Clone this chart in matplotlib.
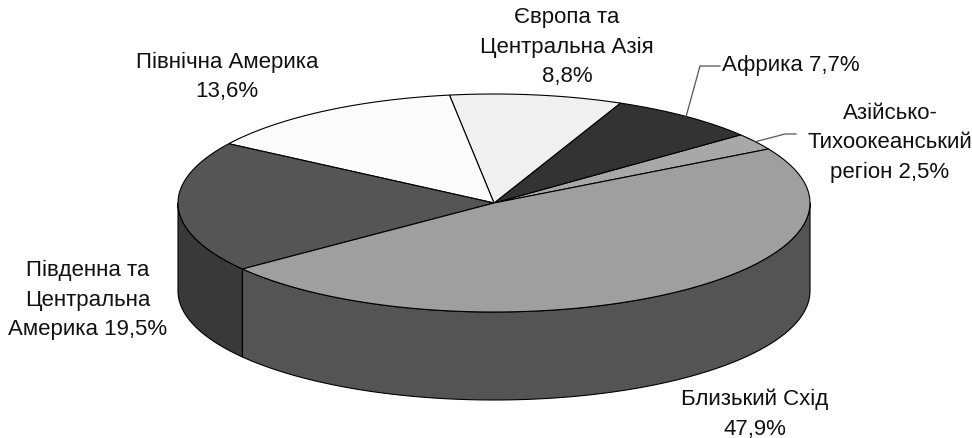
import matplotlib.pyplot as plt
import numpy as np

plt.rcParams['font.family'] = ['Liberation Sans', 'DejaVu Sans']

# regions, counterclockwise from the start angle
regions = ["Азійсько-\nТихоокеанський\nрегіон", "Африка", "Європа та\nЦентральна Азія",
           "Північна Америка", "Південна та\nЦентральна\nАмерика", "Близький Схід"]
shares = [2.5, 7.7, 8.8, 13.6, 19.5, 47.9]
value_sep = [" ", " ", "\n", "\n", " ", "\n"]
top_colors = ["#a8a8a8", "#333333", "#f0f0f0", "#fbfbfb", "#555555", "#9f9f9f"]
side_colors = ["#6a6a6a", "#222222", "#b0b0b0", "#c0c0c0", "#393939", "#545454"]

# label placement (x, y, ha) in pixels
label_pos = [(890, 143, "center"), (722, 66, "left"), (567, 47, "center"),
             (227, 77, "center"), (88, 300, "center"), (755, 414, "center")]
leader_elbow = {0: [(785, 134), (796, 134)], 1: [(700, 66), (720, 66)]}

W, H = 972, 438
cx, cy, a, b, depth = 494, 203, 316, 109, 88
start = 29.7


def arc(t1, t2, dy=0, n=120):
    t = np.radians(np.linspace(t1, t2, n))
    return np.column_stack([cx + a * np.cos(t), cy - b * np.sin(t) + dy])


fig = plt.figure(figsize=(W / 100, H / 100), dpi=100)
ax = fig.add_axes([0, 0, 1, 1])
ax.set_xlim(0, W)
ax.set_ylim(H, 0)
ax.axis("off")

bounds = start + np.concatenate([[0], np.cumsum(shares)]) * 3.6

# front side walls
for i in range(len(shares)):
    t1, t2 = bounds[i], bounds[i + 1]
    for off in (0, 360):
        lo, hi = max(t1, 180 + off), min(t2, 360 + off)
        if hi > lo:
            pts = np.vstack([arc(lo, hi), arc(hi, lo, depth)])
            ax.add_patch(plt.Polygon(pts, closed=True, fc=side_colors[i], ec="black", lw=0.8))

# top surface
for i in range(len(shares)):
    pts = np.vstack([[cx, cy], arc(bounds[i], bounds[i + 1])])
    ax.add_patch(plt.Polygon(pts, closed=True, fc=top_colors[i], ec="black", lw=0.8))

# labels
for i, name in enumerate(regions):
    txt = name + value_sep[i] + f"{shares[i]:.1f}".replace(".", ",") + "%"
    x, y, ha = label_pos[i]
    ax.text(x, y, txt, ha=ha, va="center", fontsize=16, linespacing=1.55, color="#111111")
    if i in leader_elbow:
        mid = np.radians((bounds[i] + bounds[i + 1]) / 2)
        p0 = (cx + a * np.cos(mid), cy - b * np.sin(mid))
        xs, ys = zip(p0, *leader_elbow[i])
        ax.plot(xs, ys, color="#555555", lw=0.9)

fig.savefig("out.png", dpi=100)
plt.close()
